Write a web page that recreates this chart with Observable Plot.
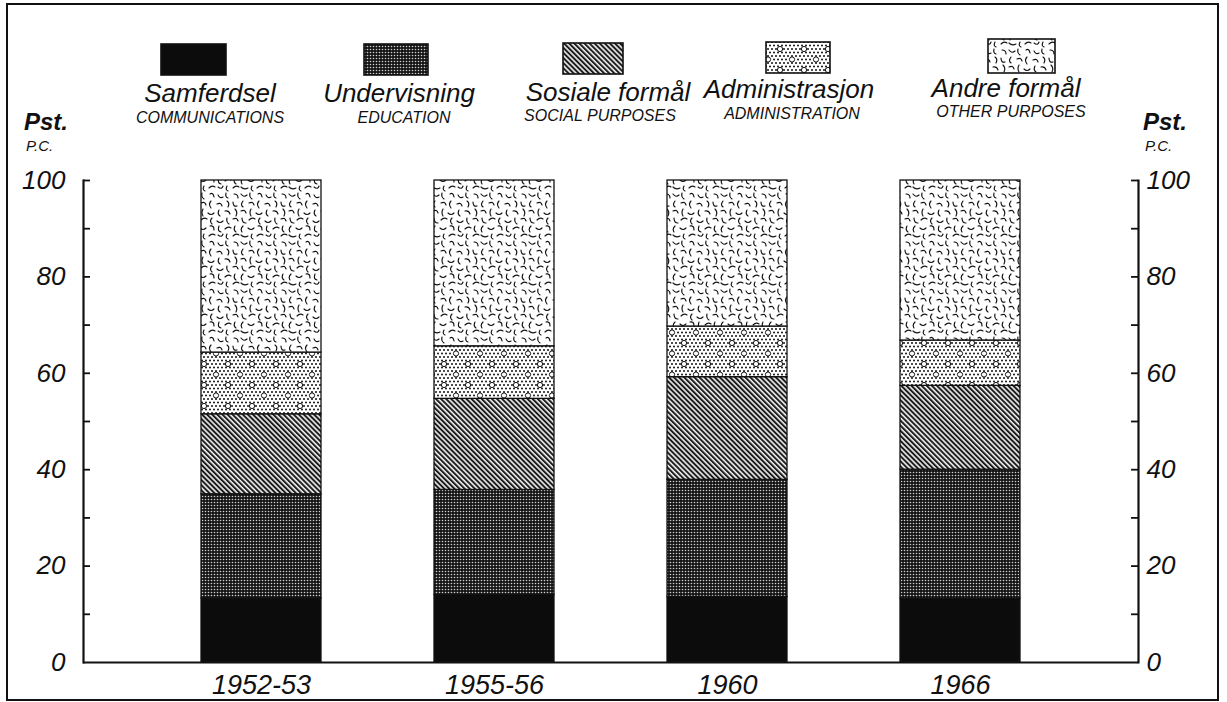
<!DOCTYPE html>
<html>
<head>
<meta charset="utf-8">
<script src="https://cdn.jsdelivr.net/npm/d3@7"></script>
<script src="https://cdn.jsdelivr.net/npm/@observablehq/plot@0.6"></script>
<style>
  html, body { margin: 0; padding: 0; background: #fff; }
  #wrap { position: relative; width: 1227px; height: 702px; overflow: hidden; background: #fff; }
  #border { position: absolute; left: 6px; top: 3px; width: 1213px; height: 698px; box-sizing: border-box; border: 2px solid #111; pointer-events: none; }
  #chart { position: absolute; left: 0; top: 0; }
  #overlay { position: absolute; left: 0; top: 0; }
  text { font-family: "Liberation Sans", Arial, sans-serif; }
</style>
</head>
<body>
<svg width="0" height="0" style="position:absolute">
  <defs>
    <pattern id="p-samf" patternUnits="userSpaceOnUse" width="6" height="6">
      <rect width="6" height="6" fill="#0c0c0c"/>
    </pattern>
    <pattern id="p-underv" patternUnits="userSpaceOnUse" width="3" height="3">
      <rect width="3" height="3" fill="#151515"/>
      <circle cx="1.5" cy="1.5" r="0.8" fill="#cfcfcf"/>
    </pattern>
    <pattern id="p-sos" patternUnits="userSpaceOnUse" width="3.6" height="3.6" patternTransform="rotate(-45)">
      <rect width="3.6" height="3.6" fill="#f2f2f2"/>
      <rect width="2.0" height="3.6" fill="#1c1c1c"/>
    </pattern>
    <pattern id="p-admin" patternUnits="userSpaceOnUse" width="24" height="21"></pattern>
    <pattern id="p-andre" patternUnits="userSpaceOnUse" width="48" height="48">
      <rect width="48" height="48" fill="#fff"/>
      <g fill="none" stroke="#111" stroke-width="1.15" stroke-linecap="round">
        <path d="M1,2 Q4,6 7,3"/><path d="M10,1 Q9,5 12,7"/><path d="M18,2 Q21,0 22,5"/>
        <path d="M26,3 Q28,7 31,5"/><path d="M34,1 Q33,5 36,6"/><path d="M42,2 Q46,2 46,6"/>
        <path d="M3,9 Q0,13 3,15"/><path d="M9,11 Q13,9 14,13"/><path d="M19,9 Q16,12 19,16"/>
        <path d="M25,12 Q29,10 30,14"/><path d="M35,9 Q38,11 36,15"/><path d="M41,10 Q41,15 45,14"/>
        <path d="M1,19 Q5,17 6,21"/><path d="M11,17 Q9,21 11,24"/><path d="M16,21 Q19,24 22,21"/>
        <path d="M27,18 Q25,22 28,24"/><path d="M33,19 Q37,18 38,22"/><path d="M43,17 Q46,20 44,24"/>
        <path d="M2,26 Q2,31 6,31"/><path d="M9,28 Q12,25 15,27"/><path d="M20,26 Q17,29 20,32"/>
        <path d="M25,29 Q28,32 31,29"/><path d="M35,26 Q34,30 37,32"/><path d="M41,27 Q45,25 46,29"/>
        <path d="M3,34 Q0,37 2,40"/><path d="M8,36 Q11,39 14,36"/><path d="M18,34 Q22,33 22,38"/>
        <path d="M27,34 Q25,39 29,40"/><path d="M33,37 Q36,34 39,36"/><path d="M43,34 Q41,38 44,40"/>
        <path d="M1,43 Q4,46 8,44"/><path d="M12,42 Q10,46 13,47"/><path d="M17,44 Q20,41 23,43"/>
        <path d="M26,43 Q30,46 31,42"/><path d="M35,42 Q33,46 36,47"/><path d="M41,44 Q44,41 47,43"/>
      </g>
    </pattern>
  </defs>
</svg>
<div id="wrap">
  <div id="chart"></div>
  <svg id="overlay" width="1227" height="702"></svg>
  <div id="border"></div>
</div>
<script>
// ---- data ----
const periods = ["1952-53", "1955-56", "1960", "1966"];
const categories = ["Samferdsel", "Undervisning", "Sosiale formål", "Administrasjon", "Andre formål"];
const categoriesEn = ["COMMUNICATIONS", "EDUCATION", "SOCIAL PURPOSES", "ADMINISTRATION", "OTHER PURPOSES"];
const samferdsel     = [13.3, 14.0, 13.6, 13.2];
const undervisning   = [21.6, 21.8, 24.3, 26.8];
const sosiale        = [16.6, 18.9, 21.3, 17.4];
const administrasjon = [12.8, 10.9, 10.5, 9.4];
const andre          = [35.7, 34.4, 30.3, 33.2];
const yLabelTicks = [0, 20, 40, 60, 80, 100];
const yMinorTicks = [10, 20, 30, 40, 50, 60, 70, 80, 90, 100];

const series = [samferdsel, undervisning, sosiale, administrasjon, andre];
const patterns = ["url(#p-samf)", "url(#p-underv)", "url(#p-sos)", "url(#p-admin)", "url(#p-andre)"];

// admin pattern: dense dots with occasional rings (decorative texture)
(function () {
  const ns = "http://www.w3.org/2000/svg";
  const p = document.getElementById("p-admin");
  const bg = document.createElementNS(ns, "rect");
  bg.setAttribute("width", 24); bg.setAttribute("height", 21); bg.setAttribute("fill", "#fff");
  p.appendChild(bg);
  const rings = [[12, 7], [0, 17.5], [24, 17.5]];
  for (let r = 0; r <= 6; r++) {
    const y = r * 3.5;
    for (let c = -1; c <= 7; c++) {
      const x = c * 4 + (r % 2 ? 2 : 0);
      if (rings.some(([rx, ry]) => Math.hypot(rx - x, ry - y) < 3.2)) continue;
      const d = document.createElementNS(ns, "circle");
      d.setAttribute("cx", x); d.setAttribute("cy", y); d.setAttribute("r", 1.0); d.setAttribute("fill", "#111");
      p.appendChild(d);
    }
  }
  rings.forEach(([x, y]) => {
    const c = document.createElementNS(ns, "circle");
    c.setAttribute("cx", x); c.setAttribute("cy", y); c.setAttribute("r", 2.6);
    c.setAttribute("fill", "none"); c.setAttribute("stroke", "#111"); c.setAttribute("stroke-width", 1.0);
    p.appendChild(c);
  });
})();

const data = periods.flatMap((p, i) => categories.map((c, j) => ({period: p, category: c, value: series[j][i]})));

const W = 1227, H = 702, mL = 83, mR = 89, mT = 180, mB = 40;
const frameW = W - mL - mR;
const tickLen = 7;
const font = "Liberation Sans, Arial, sans-serif";

const chart = Plot.plot({
  width: W, height: H,
  marginTop: mT, marginBottom: mB, marginLeft: mL, marginRight: mR,
  style: {fontFamily: font, background: "transparent", color: "#111"},
  x: {domain: periods, paddingInner: 0.487, paddingOuter: 0.5, label: null},
  y: {domain: [0, 100], label: null},
  color: {type: "ordinal", domain: categories, range: patterns},
  marks: [
    Plot.barY(data, {x: "period", y: "value", fill: "category", stroke: "#111", strokeWidth: 1.3}),
    Plot.ruleY([0], {stroke: "#111", strokeWidth: 2.2}),
    Plot.frame({anchor: "left", stroke: "#111", strokeWidth: 2.2}),
    Plot.frame({anchor: "right", stroke: "#111", strokeWidth: 2.2}),
    Plot.tickY(yMinorTicks, {y: d => d, insetRight: frameW - tickLen, stroke: "#111", strokeWidth: 1.8}),
    Plot.tickY(yMinorTicks, {y: d => d, insetLeft: frameW - tickLen, stroke: "#111", strokeWidth: 1.8}),
    Plot.axisY({anchor: "left", ticks: yLabelTicks, tickSize: 0, tickPadding: 18, fontSize: 26, fontStyle: "italic", label: null}),
    Plot.axisY({anchor: "right", ticks: yLabelTicks, tickSize: 0, tickPadding: 8, fontSize: 26, fontStyle: "italic", label: null}),
    Plot.axisX({tickSize: 0, tickPadding: 12, fontSize: 27, fontStyle: "italic", label: null})
  ]
});
document.getElementById("chart").appendChild(chart);

// ---- legend & unit labels (real text) ----
const legendLayout = [
  {sx: 161, sy: 44, sw: 65, sh: 31, tx: 210, ty: 102, ux: 210, uy: 123},
  {sx: 364, sy: 44, sw: 64, sh: 31, tx: 399, ty: 102, ux: 404, uy: 123},
  {sx: 563, sy: 43, sw: 60, sh: 31, tx: 608, ty: 101, ux: 600, uy: 121},
  {sx: 766, sy: 42, sw: 64, sh: 31, tx: 789, ty: 98,  ux: 792, uy: 119},
  {sx: 988, sy: 39, sw: 67, sh: 34, tx: 1006, ty: 97, ux: 1011, uy: 117}
];
const ov = d3.select("#overlay");
categories.forEach((c, i) => {
  const L = legendLayout[i];
  ov.append("rect").attr("x", L.sx).attr("y", L.sy).attr("width", L.sw).attr("height", L.sh)
    .attr("fill", patterns[i]).attr("stroke", "#111").attr("stroke-width", 1.6);
  ov.append("text").attr("x", L.tx).attr("y", L.ty).attr("text-anchor", "middle")
    .attr("font-size", 26).attr("font-style", "italic").attr("fill", "#111").text(c);
  ov.append("text").attr("x", L.ux).attr("y", L.uy).attr("text-anchor", "middle")
    .attr("font-size", 16).attr("font-style", "italic").attr("fill", "#111").text(categoriesEn[i]);
});
[{x: 24}, {x: 1143}].forEach(({x}) => {
  ov.append("text").attr("x", x).attr("y", 130).attr("font-size", 24).attr("font-weight", "bold")
    .attr("font-style", "italic").attr("fill", "#111").text("Pst.");
  ov.append("text").attr("x", x + 2).attr("y", 151).attr("font-size", 15)
    .attr("font-style", "italic").attr("fill", "#111").text("P.C.");
});
</script>
</body>
</html>
